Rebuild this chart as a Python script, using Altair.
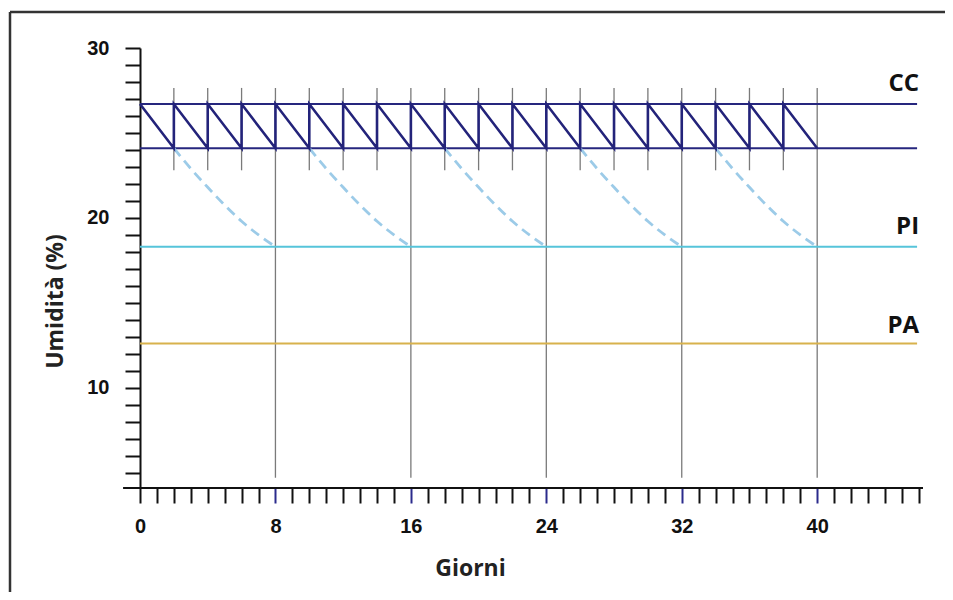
import altair as alt
import pandas as pd

# ---- data ----
saw_day = [0, 2, 2, 4, 4, 6, 6, 8, 8, 10, 10, 12, 12, 14, 14, 16, 16, 18, 18, 20,
           20, 22, 22, 24, 24, 26, 26, 28, 28, 30, 30, 32, 32, 34, 34, 36, 36, 38, 38, 40]
saw_value = [26.7, 24.1, 26.7, 24.1, 26.7, 24.1, 26.7, 24.1, 26.7, 24.1,
             26.7, 24.1, 26.7, 24.1, 26.7, 24.1, 26.7, 24.1, 26.7, 24.1,
             26.7, 24.1, 26.7, 24.1, 26.7, 24.1, 26.7, 24.1, 26.7, 24.1,
             26.7, 24.1, 26.7, 24.1, 26.7, 24.1, 26.7, 24.1, 26.7, 24.1]

dry_start = [2, 10, 18, 26, 34]
dry_offset = [0, 1, 2, 3, 4, 5, 6]
dry_value = [24.1, 22.9, 21.8, 20.75, 19.8, 19.0, 18.3]

short_days = [2, 4, 6, 10, 12, 14, 18, 20, 22, 26, 28, 30, 34, 36, 38]
long_days = [8, 16, 24, 32, 40]
guide_top = 27.65
short_bottom = 22.8
long_bottom = 4.7

level_value = [26.7, 24.1, 18.3, 12.6]
level_color = ["#26267e", "#26267e", "#56c4da", "#d8b24c"]
level_end = 45.9

label_text = ["CC", "PI", "PA"]
label_value = [27.9, 19.47, 13.65]

X_DOMAIN = [0, 46.25]
Y_DOMAIN = [4.1, 30]

# ---- frames ----
saw_df = pd.DataFrame({"day": saw_day, "value": saw_value, "i": list(range(len(saw_day)))})
dry_rows = []
for k, s in enumerate(dry_start):
    for o, v in zip(dry_offset, dry_value):
        dry_rows.append({"day": s + o, "value": v, "cycle": k})
dry_df = pd.DataFrame(dry_rows)

guide_df = pd.DataFrame(
    [{"day": d, "value": guide_top, "bottom": short_bottom} for d in short_days]
    + [{"day": d, "value": guide_top, "bottom": long_bottom} for d in long_days]
)
level_df = pd.DataFrame({"value": level_value, "color": level_color,
                         "day": [0] * 4, "end": [level_end] * 4})
label_df = pd.DataFrame({"text": label_text, "value": label_value, "day": [level_end] * 3})
xaxis_df = pd.DataFrame({"day": [-1.0], "end": [X_DOMAIN[1]], "value": [Y_DOMAIN[0]]})

xs = alt.Scale(domain=X_DOMAIN, nice=False, zero=False)
ys = alt.Scale(domain=Y_DOMAIN, nice=False, zero=False)

x_axis = alt.Axis(
    values=list(range(0, 47)),
    labelExpr="datum.value % 8 === 0 ? datum.label : ''",
    title="Giorni",
    grid=False,
    domain=False,
    tickSize=15,
    tickWidth=2,
    tickColor={"condition": {"test": "datum.value % 8 === 0 && datum.value > 0", "value": "#2b2b8c"},
               "value": "#111111"},
    labelFont="Liberation Sans",
    labelFontWeight="bold",
    labelFontSize=20,
    labelColor="#111111",
    labelPadding=13,
    labelFlush=False,
    labelOverlap=False,
    titleFont="Open Sans",
    titleFontWeight="bold",
    titleFontSize=23,
    titleColor="#222222",
    titleX=330,
    titleY=80,
    titleBaseline="middle",
)
y_axis = alt.Axis(
    values=list(range(5, 31)),
    labelExpr="datum.value % 10 === 0 ? datum.label : ''",
    title="Umidità (%)",
    grid=False,
    domain=True,
    domainColor="#111111",
    domainWidth=2,
    tickSize=15,
    tickWidth=2,
    tickColor="#111111",
    labelFont="Liberation Sans",
    labelFontWeight="bold",
    labelFontSize=20,
    labelColor="#111111",
    labelPadding=16,
    labelFlush=False,
    labelOverlap=False,
    titleFont="Open Sans",
    titleFontWeight="bold",
    titleFontSize=23,
    titleColor="#222222",
    titleAngle=270,
    titleX=-85,
    titleY=253,
    titleAlign="center",
    titleBaseline="middle",
)


def X(field="day"):
    return alt.X(f"{field}:Q", scale=xs, axis=x_axis, title="Giorni")


def Y(field="value"):
    return alt.Y(f"{field}:Q", scale=ys, axis=y_axis, title="Umidità (%)")


xaxis_line = alt.Chart(xaxis_df).mark_rule(color="#111111", strokeWidth=2).encode(
    x=X(), x2="end:Q", y=Y()
)

guides = alt.Chart(guide_df).mark_rule(color="#7a7a7a", strokeWidth=1.3).encode(
    x=X(), y=Y(), y2="bottom:Q",
)

levels = alt.Chart(level_df).mark_rule(strokeWidth=2).encode(
    x=X(), x2="end:Q", y=Y(),
    color=alt.Color("color:N", scale=None, legend=None),
)

dry = alt.Chart(dry_df).mark_line(color="#9ccbe8", strokeWidth=2.8, strokeDash=[10, 6],
                                  interpolate="monotone").encode(
    x=X(), y=Y(), detail="cycle:N",
)

saw = alt.Chart(saw_df).mark_line(color="#23237a", strokeWidth=2.6).encode(
    x=X(), y=Y(), order="i:Q",
)

labels = alt.Chart(label_df).mark_text(
    align="right", baseline="middle", font="Open Sans", fontWeight="bold",
    fontSize=24, color="#111111", dx=2
).encode(
    x=X(), y=Y(), text="text:N",
)

frame_left = alt.Chart(xaxis_df).mark_rule(color="#333333", strokeWidth=2.5).encode(
    x=alt.value(-130), y=alt.value(-36), y2=alt.value(570)
)
frame_top = alt.Chart(xaxis_df).mark_rule(color="#333333", strokeWidth=2.5).encode(
    x=alt.value(-130), x2=alt.value(820), y=alt.value(-36)
)

chart = alt.layer(
    frame_left, frame_top, guides, levels, dry, saw, xaxis_line, labels
).properties(
    width=783,
    height=440,
    autosize=alt.AutoSizeParams(type="none"),
    padding={"left": 132, "top": 40, "right": 22, "bottom": 104},
    background="white",
).configure_view(stroke=None)

chart.save("out.html", embed_options={"renderer": "svg", "actions": False})
